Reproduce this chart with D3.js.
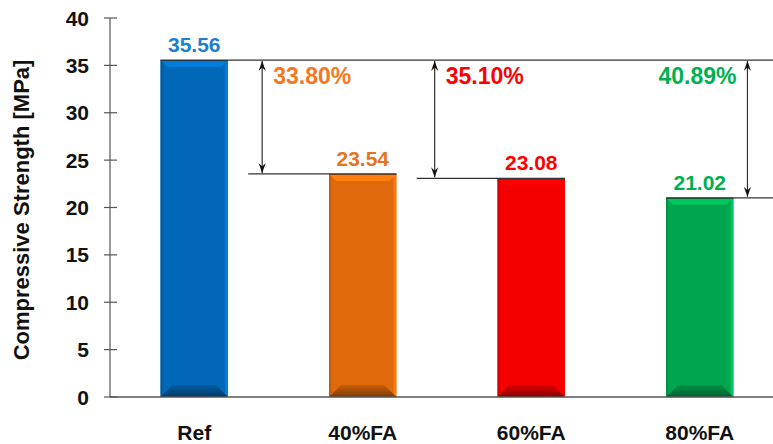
<!DOCTYPE html>
<html>
<head>
<meta charset="utf-8">
<script src="https://cdn.jsdelivr.net/npm/d3@7"></script>
<style>
  body { margin: 0; background: #fff; }
  text { font-family: "Liberation Sans", Arial, sans-serif; font-weight: bold; }
</style>
</head>
<body>
<svg id="chart" width="773" height="444"></svg>
<script>
const categories = ['Ref', '40%FA', '60%FA', '80%FA'];
const strength = [35.56, 23.54, 23.08, 21.02];
const reduction = [33.80, 35.10, 40.89]; // vs Ref, for the 3 FA mixes
const yTicks = [0, 5, 10, 15, 20, 25, 30, 35, 40];
const barColors = ['#0068b6', '#e0690c', '#f50000', '#00a64f'];
const labelColors = ['#1e7fcf', '#e6731e', '#ff0000', '#00b050'];
const pctColors = ['#f47721', '#ff0000', '#00b050'];

const svg = d3.select('#chart');
const W = 773, H = 444;

const x = d3.scaleBand()
  .domain(categories)
  .range([110, 784])
  .paddingInner(0.6)
  .paddingOuter(0.3);

const y = d3.scaleLinear()
  .domain([0, 40])
  .range([397, 18]);

const bw = x.bandwidth();
const defs = svg.append('defs');

// bars with a simple bevel look
const bars = svg.append('g');
categories.forEach((c, i) => {
  const x0 = x(c), x1 = x(c) + bw, y0 = y(strength[i]), y1 = y(0);
  const col = d3.color(barColors[i]);

  const gb = defs.append('linearGradient')
    .attr('id', 'bot' + i).attr('x1', 0).attr('x2', 0).attr('y1', 0).attr('y2', 1);
  gb.append('stop').attr('offset', 0).attr('stop-color', col.darker(0.3));
  gb.append('stop').attr('offset', 1).attr('stop-color', col.darker(1.6));

  const g = bars.append('g');
  g.append('rect')
    .attr('x', x0).attr('y', y0)
    .attr('width', bw).attr('height', y1 - y0)
    .attr('fill', col);
  // left darker strip, right lighter strip
  g.append('rect').attr('x', x0).attr('y', y0).attr('width', 2).attr('height', y1 - y0)
    .attr('fill', col.darker(0.4));
  g.append('rect').attr('x', x1 - 3).attr('y', y0).attr('width', 3).attr('height', y1 - y0)
    .attr('fill', col.brighter(0.7)).attr('opacity', 0.7);
  // top bevel
  g.append('polygon')
    .attr('points', [[x0, y0], [x1, y0], [x1 - 7, y0 + 7], [x0 + 7, y0 + 7]].join(' '))
    .attr('fill', col.brighter(0.5));
  // bottom bevel
  g.append('polygon')
    .attr('points', [[x0, y1], [x1, y1], [x1 - 12, y1 - 12], [x0 + 12, y1 - 12]].join(' '))
    .attr('fill', `url(#bot${i})`);
  g.append('line')
    .attr('x1', x0).attr('x2', x1).attr('y1', y0 + 0.5).attr('y2', y0 + 0.5)
    .attr('stroke', col.darker(1.2)).attr('stroke-width', 1);
});

// value labels
svg.append('g').selectAll('text')
  .data(categories)
  .join('text')
  .attr('x', c => x(c) + bw / 2)
  .attr('y', (c, i) => y(strength[i]) - 8)
  .attr('text-anchor', 'middle')
  .attr('font-size', 21)
  .attr('fill', (c, i) => labelColors[i])
  .text((c, i) => strength[i].toFixed(2));

// axes
const axisColor = '#555';
svg.append('line')
  .attr('x1', 110).attr('x2', W).attr('y1', y(0)).attr('y2', y(0))
  .attr('stroke', axisColor).attr('stroke-width', 1.5);
svg.append('line')
  .attr('x1', 110).attr('x2', 110).attr('y1', y(40)).attr('y2', y(0))
  .attr('stroke', axisColor).attr('stroke-width', 1.2);

const yAx = svg.append('g');
yAx.selectAll('line')
  .data(yTicks)
  .join('line')
  .attr('x1', 104).attr('x2', 117)
  .attr('y1', d => y(d)).attr('y2', d => y(d))
  .attr('stroke', axisColor).attr('stroke-width', 1.2);
yAx.selectAll('text')
  .data(yTicks)
  .join('text')
  .attr('x', 89)
  .attr('y', d => y(d))
  .attr('dy', '0.36em')
  .attr('text-anchor', 'end')
  .attr('font-size', 21)
  .attr('fill', '#111')
  .text(d => d);

svg.append('g').selectAll('text')
  .data(categories)
  .join('text')
  .attr('x', c => x(c) + bw / 2)
  .attr('y', 440)
  .attr('text-anchor', 'middle')
  .attr('font-size', 21)
  .attr('fill', '#111')
  .text(c => c);

svg.append('text')
  .attr('transform', `translate(29, 210) rotate(-90)`)
  .attr('text-anchor', 'middle')
  .attr('font-size', 22)
  .attr('fill', '#111')
  .text('Compressive Strength [MPa]');

// reference lines and arrows
const refY = y(strength[0]);
svg.append('line')
  .attr('x1', x(categories[0])).attr('x2', W)
  .attr('y1', refY).attr('y2', refY)
  .attr('stroke', '#333').attr('stroke-width', 1.2);

defs.append('marker')
  .attr('id', 'ah')
  .attr('viewBox', '-11 -5 12 10')
  .attr('refX', 0).attr('refY', 0)
  .attr('markerWidth', 12).attr('markerHeight', 10)
  .attr('markerUnits', 'userSpaceOnUse')
  .attr('orient', 'auto-start-reverse')
  .append('path')
  .attr('d', 'M0,0 L-10,-3.6 L-6.5,0 L-10,3.6 Z')
  .attr('fill', '#111');

const ann = svg.append('g');
categories.slice(1).forEach((c, j) => {
  const i = j + 1;
  const ly = y(strength[i]);
  const last = i === categories.length - 1;
  const lx0 = last ? x(c) : x(c) - 1.2 * bw;
  const lx1 = last ? W : x(c) + bw;
  const ax = last ? x(c) + bw + 14 : lx0 + 14 + (i - 1) * 4;
  ann.append('line')
    .attr('x1', lx0).attr('x2', lx1).attr('y1', ly).attr('y2', ly)
    .attr('stroke', '#333').attr('stroke-width', 1.2);
  ann.append('line')
    .attr('x1', ax).attr('x2', ax).attr('y1', refY + 1).attr('y2', ly - 1)
    .attr('stroke', '#333').attr('stroke-width', 1.2)
    .attr('marker-start', 'url(#ah)')
    .attr('marker-end', 'url(#ah)');
  ann.append('text')
    .attr('x', last ? ax - 11 : ax + 11)
    .attr('y', refY + 24)
    .attr('text-anchor', last ? 'end' : 'start')
    .attr('font-size', 23)
    .attr('fill', pctColors[j])
    .text(reduction[j].toFixed(2) + '%');
});
</script>
</body>
</html>
